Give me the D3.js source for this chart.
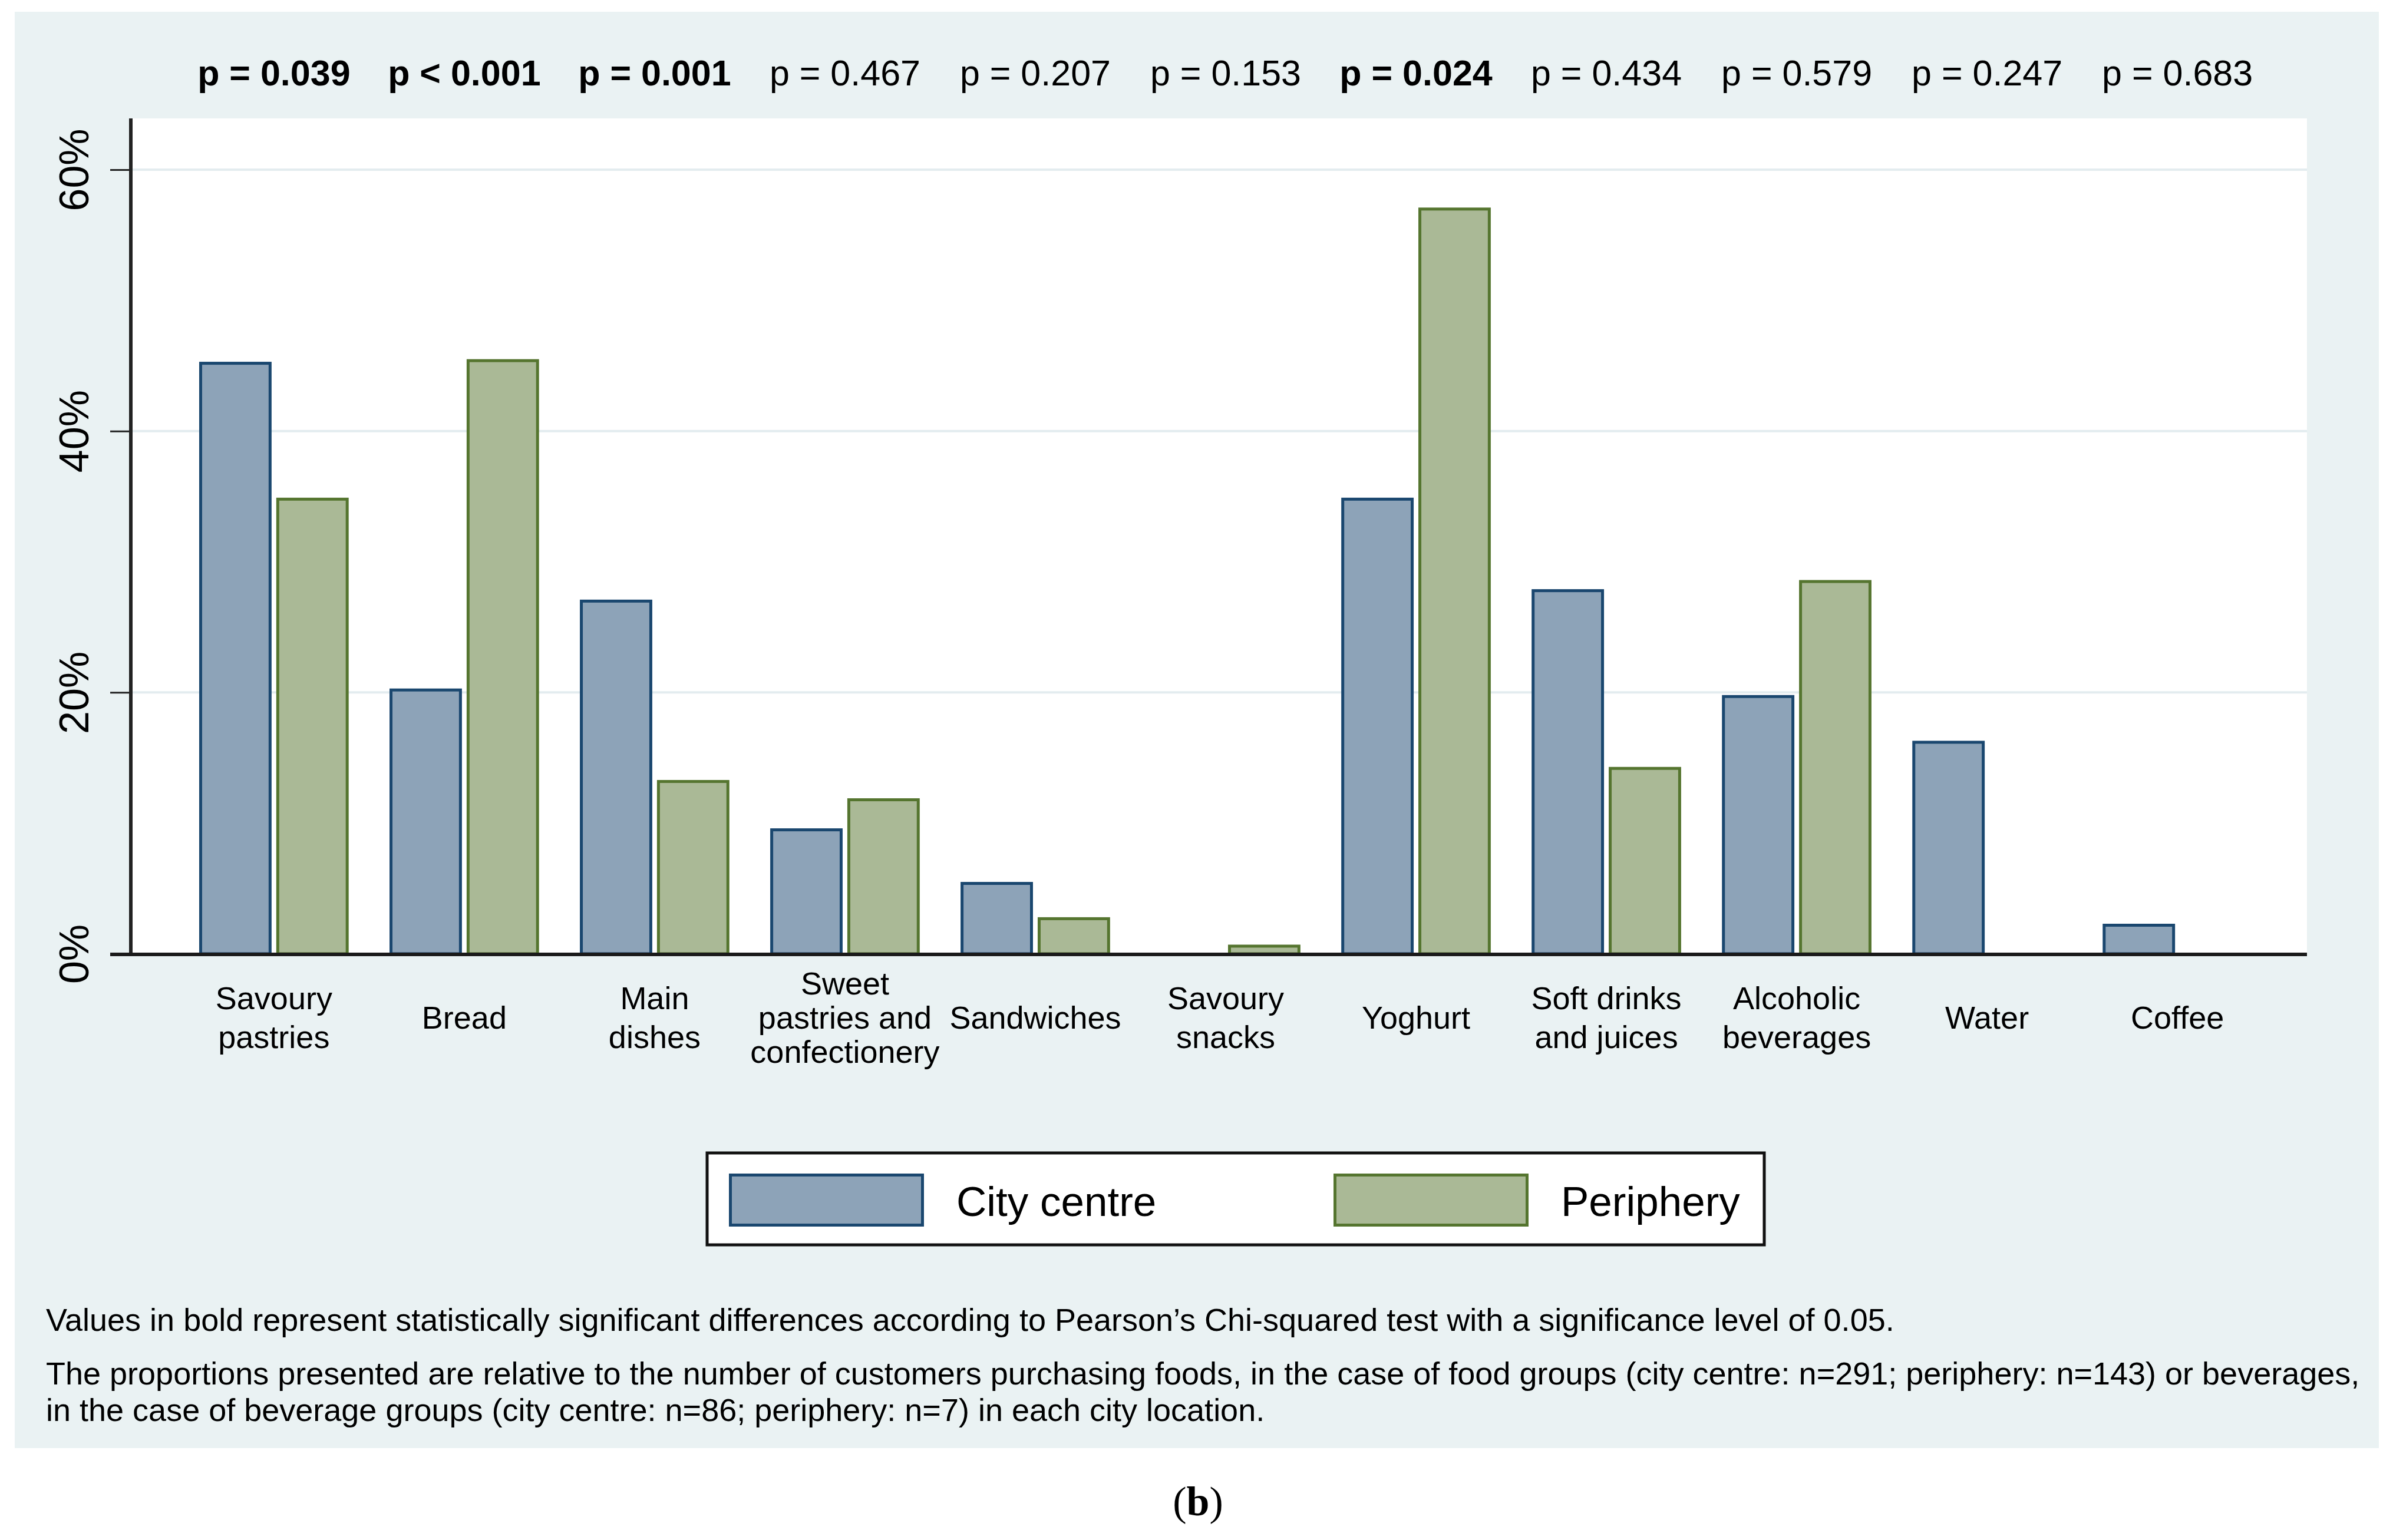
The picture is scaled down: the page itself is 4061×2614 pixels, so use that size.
<!DOCTYPE html>
<html>
<head>
<meta charset="utf-8">
<script src="https://cdn.jsdelivr.net/npm/d3@7"></script>
<style>
  body { margin: 0; background: #ffffff; }
  text { font-family: "Liberation Sans", Arial, sans-serif; }
</style>
</head>
<body>
<div id="chart"></div>
<script>

// chart data
const categories = ["Savoury pastries", "Bread", "Main dishes", "Sweet pastries and confectionery",
  "Sandwiches", "Savoury snacks", "Yoghurt", "Soft drinks and juices", "Alcoholic beverages", "Water", "Coffee"];
const categoryLines = [["Savoury", "pastries"], ["Bread"], ["Main", "dishes"],
  ["Sweet", "pastries and", "confectionery"], ["Sandwiches"], ["Savoury", "snacks"], ["Yoghurt"],
  ["Soft drinks", "and juices"], ["Alcoholic", "beverages"], ["Water"], ["Coffee"]];
const seriesNames = ["City centre", "Periphery"];
const cityCentre = [45.3, 20.3, 27.1, 9.6, 5.5, 0, 34.9, 27.9, 19.8, 16.3, 2.3];
const periphery = [34.9, 45.5, 13.3, 11.9, 2.8, 0.7, 57.1, 14.3, 28.6, 0, 0];
const pValues = ["p = 0.039", "p < 0.001", "p = 0.001", "p = 0.467", "p = 0.207", "p = 0.153",
  "p = 0.024", "p = 0.434", "p = 0.579", "p = 0.247", "p = 0.683"];
const pBold = [true, true, true, false, false, false, true, false, false, false, false];
const yTicks = [0, 20, 40, 60];
const notes = [
  "Values in bold represent statistically significant differences according to Pearson\u2019s Chi-squared test with a significance level of 0.05.",
  "The proportions presented are relative to the number of customers purchasing foods, in the case of food groups (city centre: n=291; periphery: n=143) or beverages,",
  "in the case of beverage groups (city centre: n=86; periphery: n=7) in each city location."
];

// Set dimensions
const width = 4061, height = 2614;
const plot = { left: 222, right: 3915, top: 201, bottom: 1619 };
const colors = { fill: ["#8da3b8", "#aab996"], stroke: ["#1a476f", "#55752f"] };
const sw = 5;

const svg = d3.select("#chart")
  .append("svg")
  .attr("width", width)
  .attr("height", height)
  .attr("viewBox", [0, 0, width, height]);

// background panel and plot region
svg.append("rect").attr("x", 25).attr("y", 20).attr("width", 4012).attr("height", 2438).attr("fill", "#eaf2f3");
svg.append("rect").attr("x", plot.left).attr("y", plot.top)
  .attr("width", plot.right - plot.left).attr("height", plot.bottom - plot.top).attr("fill", "#ffffff");

/*
  Scales
*/
const xScale = d3.scaleBand()
  .domain(categories)
  .range([338, 3822])
  .paddingInner(0.2146)
  .paddingOuter(0);

const xSub = d3.scaleBand()
  .domain(seriesNames)
  .range([0, xScale.bandwidth()])
  .paddingInner(0.061);

const yScale = d3.scaleLinear()
  .domain([0, 60])
  .range([plot.bottom, 288]);

// gridlines
svg.append("g")
  .selectAll("line")
  .data(yTicks.filter(d => d > 0))
  .enter()
  .append("line")
  .attr("x1", plot.left).attr("x2", plot.right)
  .attr("y1", d => yScale(d)).attr("y2", d => yScale(d))
  .attr("stroke", "#e3ecef")
  .attr("stroke-width", 4);

/*
  Bars
*/
const table = categories.map((c, i) => ({ cat: c, values: [cityCentre[i], periphery[i]] }));

const groups = svg.selectAll(".group")
  .data(table)
  .enter()
  .append("g")
  .attr("class", "group")
  .attr("transform", d => `translate(${xScale(d.cat)},0)`);

groups.selectAll("rect")
  .data(d => d.values.map((v, j) => ({ series: seriesNames[j], j: j, value: v })).filter(b => b.value > 0))
  .enter()
  .append("rect")
  .attr("x", d => xSub(d.series) + sw / 2)
  .attr("width", xSub.bandwidth() - sw)
  .attr("y", d => yScale(d.value) + sw / 2)
  .attr("height", d => yScale(0) - yScale(d.value) - sw / 2)
  .attr("fill", d => colors.fill[d.j])
  .attr("stroke", d => colors.stroke[d.j])
  .attr("stroke-width", sw);

/*
  Axes
*/
const yAxis = svg.append("g")
  .attr("transform", `translate(${plot.left},0)`)
  .call(d3.axisLeft(yScale).tickValues(yTicks).tickFormat(d => d + "%").tickSize(35).tickSizeOuter(0));
yAxis.select(".domain").remove();
yAxis.selectAll(".tick line").attr("stroke", "#222").attr("stroke-width", 3);
yAxis.selectAll(".tick text")
  .attr("transform", "rotate(-90)")
  .attr("x", 0).attr("y", -72).attr("dy", 0)
  .attr("text-anchor", "middle")
  .attr("font-size", "70px")
  .attr("fill", "#000");

svg.append("line")
  .attr("x1", plot.left).attr("x2", plot.left)
  .attr("y1", plot.top).attr("y2", plot.bottom + 3)
  .attr("stroke", "#222").attr("stroke-width", 6);
svg.append("line")
  .attr("x1", plot.left - 35).attr("x2", plot.right)
  .attr("y1", plot.bottom + 1).attr("y2", plot.bottom + 1)
  .attr("stroke", "#1a1a1a").attr("stroke-width", 6);

// category labels
svg.selectAll(".catlabel")
  .data(categoryLines)
  .enter()
  .append("text")
  .attr("class", "catlabel")
  .attr("text-anchor", "middle")
  .attr("font-size", "54px")
  .attr("fill", "#000")
  .each(function(lines, i) {
    const cx = xScale(categories[i]) + xScale.bandwidth() / 2;
    const gap = lines.length === 3 ? 58 : 66;
    d3.select(this).selectAll("tspan")
      .data(lines)
      .enter()
      .append("tspan")
      .attr("x", cx)
      .attr("y", (l, k) => 1746 + (k - (lines.length - 1) / 2) * gap)
      .text(l => l);
  });

// p values on top
svg.selectAll(".pval")
  .data(pValues)
  .enter()
  .append("text")
  .attr("class", "pval")
  .attr("x", (d, i) => xScale(categories[i]) + xScale.bandwidth() / 2)
  .attr("y", 145)
  .attr("text-anchor", "middle")
  .attr("font-size", "61px")
  .attr("font-weight", (d, i) => pBold[i] ? "bold" : "normal")
  .attr("fill", "#000")
  .text(d => d);

/*
  Legend
*/
const legend = svg.append("g");
legend.append("rect")
  .attr("x", 1200).attr("y", 1957).attr("width", 1794).attr("height", 156)
  .attr("fill", "#ffffff").attr("stroke", "#111").attr("stroke-width", 5);
const legendX = [1237, 2263];
const legendTextX = [1623, 2649];
seriesNames.forEach((s, j) => {
  legend.append("rect")
    .attr("x", legendX[j] + sw / 2).attr("y", 1992 + sw / 2)
    .attr("width", 331 - sw).attr("height", 90 - sw)
    .attr("fill", colors.fill[j]).attr("stroke", colors.stroke[j]).attr("stroke-width", sw);
  legend.append("text")
    .attr("x", legendTextX[j]).attr("y", 2064)
    .attr("font-size", "71px").attr("fill", "#000")
    .text(s);
});

// notes
svg.selectAll(".note")
  .data(notes)
  .enter()
  .append("text")
  .attr("class", "note")
  .attr("x", 78)
  .attr("y", (d, i) => [2259, 2350, 2412][i])
  .attr("font-size", "54px")
  .attr("fill", "#000")
  .text(d => d);

// panel caption
const cap = svg.append("text")
  .attr("x", 2033).attr("y", 2572)
  .attr("text-anchor", "middle")
  .attr("font-size", "70px")
  .style("font-family", "'Liberation Serif', 'Times New Roman', serif");
cap.append("tspan").text("(");
cap.append("tspan").attr("font-weight", "bold").text("b");
cap.append("tspan").text(")");

</script>
</body>
</html>
